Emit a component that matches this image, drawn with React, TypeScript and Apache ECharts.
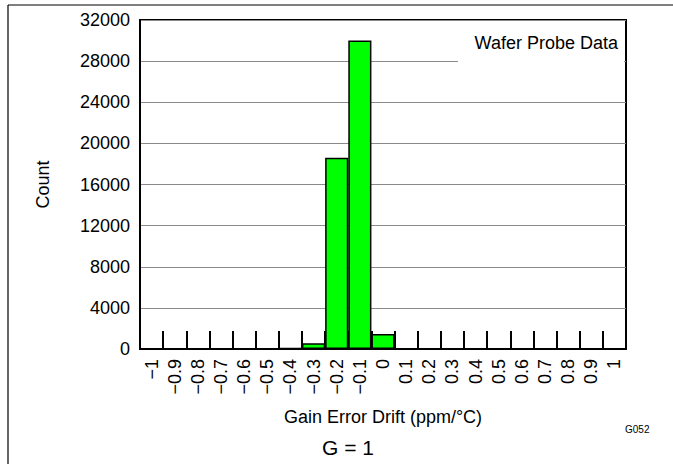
import React, { useEffect, useRef } from "react";
import * as echarts from "echarts";

const categories = [
  "\u22121", "\u22120.9", "\u22120.8", "\u22120.7", "\u22120.6", "\u22120.5", "\u22120.4",
  "\u22120.3", "\u22120.2", "\u22120.1", "0", "0.1", "0.2", "0.3", "0.4", "0.5", "0.6",
  "0.7", "0.8", "0.9", "1",
];
const counts = [0, 0, 0, 0, 0, 0, 80, 550, 18600, 30000, 1450, 0, 0, 0, 0, 0, 0, 0, 0, 0, 0];
const yMin = 0;
const yMax = 32000;
const yStep = 4000;

const FONT = "'Liberation Sans', Arial, Helvetica, sans-serif";

export default function App() {
  const ref = useRef<HTMLDivElement>(null);
  useEffect(() => {
    if (!ref.current) return;
    const chart = echarts.init(ref.current, undefined, { renderer: "svg" });
    chart.setOption({
      animation: false,
      backgroundColor: "#ffffff",
      textStyle: { fontFamily: FONT },
      grid: {
        left: 140,
        right: 47,
        top: 20,
        bottom: 115,
        show: true,
        borderColor: "#000",
        borderWidth: 2,
        backgroundColor: "transparent",
        containLabel: false,
      },
      xAxis: {
        type: "category",
        data: categories,
        boundaryGap: true,
        name: "Gain Error Drift (ppm/\u00b0C)",
        nameLocation: "middle",
        nameGap: 59,
        nameTextStyle: { fontSize: 18, color: "#000", fontFamily: FONT },
        axisLine: { lineStyle: { color: "#000", width: 2 } },
        axisTick: { show: true, inside: true, length: 18, lineStyle: { color: "#000", width: 2 } },
        axisLabel: {
          rotate: 90,
          fontSize: 18,
          color: "#000",
          margin: 10,
          interval: 0,
          fontFamily: FONT,
        },
        splitLine: { show: false },
      },
      yAxis: {
        type: "value",
        min: yMin,
        max: yMax,
        interval: yStep,
        name: "Count",
        nameLocation: "middle",
        nameGap: 88,
        nameTextStyle: { fontSize: 18, color: "#000", fontFamily: FONT },
        axisLine: { show: true, lineStyle: { color: "#000", width: 2 } },
        axisTick: { show: false },
        axisLabel: {
          fontSize: 18,
          color: "#000",
          margin: 10,
          fontFamily: FONT,
          formatter: (v: number) => String(v),
        },
        splitLine: { show: true, lineStyle: { color: "#8a8a8a", width: 1 } },
      },
      series: [
        {
          type: "bar",
          data: counts,
          barWidth: "100%",
          barCategoryGap: "0%",
          itemStyle: { color: "#00ff00", borderColor: "#000", borderWidth: 1.5 },
        },
      ],
      graphic: [
        {
          type: "rect",
          z: 100,
          shape: { x: 458, y: 59, width: 166, height: 4 },
          style: { fill: "#fff" },
        },
        {
          type: "text",
          z: 101,
          x: 618,
          y: 43,
          style: {
            text: "Wafer Probe Data",
            fontSize: 18,
            fontFamily: FONT,
            fill: "#000",
            align: "right",
            verticalAlign: "middle",
          },
        },
        {
          type: "text",
          x: 348,
          y: 447,
          style: {
            text: "G = 1",
            fontSize: 21,
            fontFamily: FONT,
            fill: "#000",
            align: "center",
            verticalAlign: "middle",
          },
        },
        {
          type: "text",
          x: 625,
          y: 429,
          style: {
            text: "G052",
            fontSize: 10,
            fontFamily: FONT,
            fill: "#000",
            align: "left",
            verticalAlign: "middle",
          },
        },
        {
          type: "line",
          shape: { x1: 8, y1: 5, x2: 673, y2: 5 },
          style: { stroke: "#000", lineWidth: 1.2 },
        },
        {
          type: "line",
          shape: { x1: 8, y1: 5, x2: 8, y2: 464 },
          style: { stroke: "#000", lineWidth: 1.2 },
        },
      ],
    });
    return () => chart.dispose();
  }, []);
  return (
    <div
      ref={ref}
      style={{ position: "absolute", left: 0, top: 0, width: 673, height: 464 }}
    />
  );
}
